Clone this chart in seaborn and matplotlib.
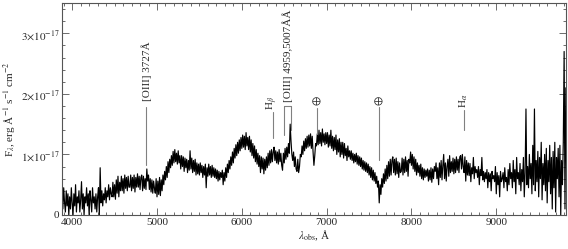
import numpy as np
import pandas as pd
import matplotlib
matplotlib.use("Agg")
import matplotlib.pyplot as plt
import seaborn as sns
from matplotlib.ticker import MultipleLocator, FixedLocator

# ---------------- data ----------------
wave_start = 3880   # first wavelength, Angstrom
wave_step = 10      # sampling, Angstrom
# flux in units of 1e-17 erg/A/s/cm^2 (rows of 100 A)
flux_1e17 = [
    0.55, 0.10, 0.45, 0.20, 0.05, 0.40, 0.15, 0.35, 0.00, 0.30,   # 3880
    0.10, 0.45, 0.20, 0.00, 0.35, 0.15, 0.50, 0.05, 0.30, 0.20,   # 3980
    0.40, 0.05, 0.25, 0.55, 0.10, 0.35, 0.00, 0.30, 0.20, 0.45,   # 4080
    0.15, 0.35, 0.00, 0.40, 0.25, 0.05, 0.45, 0.20, 0.30, 0.10,   # 4180
    0.35, 0.05, 0.30, 0.45, 0.00, 0.78, 0.20, 0.40, 0.15, 0.35,   # 4280
    0.25, 0.45, 0.20, 0.40, 0.30, 0.50, 0.25, 0.45, 0.35, 0.30,   # 4380
    0.54, 0.30, 0.50, 0.26, 0.58, 0.36, 0.64, 0.30, 0.54, 0.40,   # 4480
    0.64, 0.40, 0.60, 0.36, 0.66, 0.44, 0.62, 0.40, 0.64, 0.46,   # 4580
    0.46, 0.66, 0.40, 0.62, 0.44, 0.66, 0.38, 0.62, 0.46, 0.68,   # 4680
    0.46, 0.64, 0.42, 0.62, 0.66, 0.40, 0.64, 0.44, 0.60, 0.42,   # 4780
    0.76, 0.56, 0.66, 0.42, 0.60, 0.38, 0.58, 0.36, 0.56, 0.44,   # 4880
    0.36, 0.60, 0.30, 0.56, 0.34, 0.62, 0.32, 0.58, 0.40, 0.66,   # 4980
    0.50, 0.72, 0.58, 0.80, 0.62, 0.88, 0.70, 0.92, 0.78, 0.98,   # 5080
    0.82, 1.05, 0.86, 1.08, 0.88, 1.02, 0.84, 1.06, 0.86, 0.98,   # 5180
    0.76, 0.98, 0.80, 0.96, 0.72, 0.94, 0.78, 0.92, 0.70, 0.90,   # 5280
    0.74, 1.06, 0.76, 0.94, 0.70, 0.90, 0.72, 0.92, 0.66, 0.86,   # 5380
    0.68, 0.84, 0.66, 0.86, 0.70, 0.82, 0.62, 0.80, 0.66, 0.84,   # 5480
    0.45, 0.78, 0.64, 0.84, 0.66, 0.80, 0.62, 0.82, 0.64, 0.78,   # 5580
    0.62, 0.76, 0.60, 0.74, 0.56, 0.72, 0.58, 0.70, 0.62, 0.74,   # 5680
    0.50, 0.70, 0.56, 0.78, 0.62, 0.84, 0.70, 0.90, 0.76, 0.96,   # 5780
    0.82, 1.04, 0.86, 1.10, 0.94, 1.16, 0.98, 1.20, 1.02, 1.24,   # 5880
    1.06, 1.28, 1.10, 1.32, 1.12, 1.30, 1.08, 1.36, 1.14, 1.28,   # 5980
    1.08, 1.30, 1.04, 1.24, 0.98, 1.18, 0.94, 1.14, 0.88, 1.08,   # 6080
    0.84, 1.02, 0.80, 0.98, 0.70, 0.96, 0.76, 0.94, 0.68, 0.92,   # 6180
    0.74, 0.96, 0.78, 1.02, 0.82, 1.06, 0.86, 1.08, 0.88, 1.04,   # 6280
    1.12, 0.90, 1.06, 0.86, 1.04, 0.84, 1.08, 0.88, 1.02, 0.82,   # 6380
    0.74, 1.02, 0.86, 1.10, 0.92, 1.12, 0.96, 1.18, 1.02, 1.50,   # 6480
    1.22, 1.00, 0.90, 1.04, 0.80, 0.96, 0.76, 0.72, 0.92, 0.70,   # 6580
    0.80, 1.00, 0.96, 1.14, 1.00, 1.22, 1.06, 1.26, 1.10, 1.30,   # 6680
    1.12, 1.32, 1.14, 1.34, 1.10, 1.30, 1.04, 0.82, 0.98, 1.18,   # 6780
    1.14, 1.34, 1.16, 1.40, 1.18, 1.36, 1.14, 1.42, 1.20, 1.34,   # 6880
    1.16, 1.36, 1.18, 1.36, 1.12, 1.32, 1.14, 1.40, 1.10, 1.30,   # 6980
    1.06, 1.28, 1.08, 1.32, 1.00, 1.24, 1.04, 1.26, 0.96, 1.20,   # 7080
    1.00, 1.20, 0.94, 1.18, 0.98, 1.10, 0.90, 1.14, 0.96, 1.06,   # 7180
    0.92, 1.06, 0.90, 1.02, 0.86, 1.00, 0.88, 1.02, 0.84, 0.98,   # 7280
    0.82, 0.96, 0.80, 0.94, 0.76, 0.90, 0.74, 0.88, 0.72, 0.86,   # 7380
    0.70, 0.84, 0.66, 0.80, 0.62, 0.78, 0.58, 0.74, 0.56, 0.70,   # 7480
    0.52, 0.64, 0.46, 0.56, 0.20, 0.50, 0.34, 0.60, 0.46, 0.68,   # 7580
    0.52, 0.76, 0.56, 0.82, 0.60, 0.88, 0.64, 0.92, 0.66, 0.90,   # 7680
    0.96, 0.70, 0.92, 0.66, 0.94, 0.68, 0.88, 0.62, 0.86, 0.70,   # 7780
    0.72, 0.94, 0.66, 0.92, 0.70, 0.96, 0.72, 0.90, 0.64, 0.92,   # 7880
    0.86, 1.04, 0.82, 1.00, 0.76, 0.96, 0.72, 0.92, 0.66, 0.86,   # 7980
    0.70, 0.82, 0.64, 0.84, 0.60, 0.78, 0.58, 0.76, 0.62, 0.74,   # 8080
    0.64, 0.76, 0.56, 0.74, 0.58, 0.78, 0.54, 0.76, 0.60, 0.80,   # 8180
    0.72, 0.86, 0.60, 0.78, 0.50, 0.86, 0.62, 0.90, 0.58, 0.82,   # 8280
    1.00, 0.60, 0.86, 0.56, 0.80, 0.92, 0.64, 0.98, 0.70, 0.88,   # 8380
    0.72, 0.94, 0.68, 0.92, 0.70, 0.96, 0.74, 0.92, 0.70, 0.96,   # 8480
    0.98, 0.76, 1.00, 0.80, 0.70, 0.96, 0.56, 0.90, 0.66, 0.86,   # 8580
    0.65, 0.85, 0.55, 0.78, 0.68, 0.95, 0.60, 0.80, 0.70, 0.75,   # 8680
    0.62, 0.80, 0.50, 0.75, 0.65, 0.95, 0.58, 0.72, 0.55, 0.70,   # 8780
    0.60, 0.75, 0.45, 0.70, 0.55, 0.68, 0.40, 0.72, 0.60, 0.65,   # 8880
    0.55, 0.80, 0.35, 0.70, 0.50, 0.65, 0.30, 0.72, 0.55, 0.60,   # 8980
    0.70, 0.45, 0.78, 0.55, 0.62, 0.40, 0.75, 0.50, 0.85, 0.60,   # 9080
    0.70, 0.45, 0.90, 0.55, 0.75, 0.35, 0.95, 0.60, 0.70, 0.50,   # 9180
    0.85, 0.40, 0.75, 0.55, 0.95, 0.30, 0.70, 1.75, 0.50, 0.80,   # 9280
    0.45, 1.00, 0.60, 0.85, 0.35, 1.15, 0.50, 1.75, 0.40, 0.90,   # 9380
    0.55, 1.05, 0.30, 0.95, 0.60, 1.20, 0.25, 0.85, 0.50, 1.00,   # 9480
    0.40, 1.10, 0.20, 0.90, 0.55, 1.15, 0.35, 0.95, 0.10, 1.05,   # 9580
    0.45, 1.20, 0.05, 0.95, 0.60, 1.10, 0.30, 1.15, 0.00, 0.90,   # 9680
    0.50, 1.20, 2.70, 0.10, 2.10, 0.60,                           # 9780
]

# line identifications: (wavelength of mark, bottom of mark, top of mark) in 1e-17 units
line_labels = [r"[OIII] 3727Å", r"H$_\beta$", r"$\oplus$", r"$\oplus$", r"H$_\alpha$"]
line_waves = [4876, 6367, 6888, 7621, 8615]
line_bottoms = [0.82, 1.27, 1.33, 0.90, 1.40]
line_tops = [1.78, 1.70, 1.76, 1.78, 1.73]
label_bottoms = [1.89, 1.74, 1.80, 1.80, 1.77]

oiii_label = r"[OIII] 4959,5007ÅÅ"
oiii_waves = [6497, 6580]
oiii_bottoms = [1.32, 1.40]
oiii_top = 1.80

# ---------------- plotting ----------------
sns.set_style("ticks")
plt.rcParams["font.family"] = ["Liberation Serif", "DejaVu Serif"]
plt.rcParams["mathtext.fontset"] = "stix"

wave = wave_start + wave_step * np.arange(len(flux_1e17))
df = pd.DataFrame({"wave": wave, "flux": np.array(flux_1e17) * 1e-17})

fig = plt.figure(figsize=(5.68, 2.49), dpi=100)
ax = fig.add_axes([62 / 568, 1 - 215 / 249, (566 - 62) / 568, (215 - 3) / 249])

sns.lineplot(data=df, x="wave", y="flux", ax=ax, color="black", lw=0.85,
             estimator=None, sort=False)

ax.set_xlim(3880, 9822)
ax.set_ylim(0, 3.5e-17)

ax.xaxis.set_major_locator(MultipleLocator(1000))
ax.xaxis.set_minor_locator(MultipleLocator(100))
ax.yaxis.set_major_locator(FixedLocator([0, 1e-17, 2e-17, 3e-17]))
ax.yaxis.set_minor_locator(MultipleLocator(0.2e-17))
ax.set_yticklabels(["0", r"$1{\times}10^{-17}$", r"$2{\times}10^{-17}$", r"$3{\times}10^{-17}$"])
ax.tick_params(which="both", direction="in", top=True, right=True, labelsize=8,
               color="#555555", width=0.6, pad=2)
ax.tick_params(which="major", length=5)
ax.tick_params(which="minor", length=2.5)
for sp in ax.spines.values():
    sp.set_color("#555555")
    sp.set_linewidth(0.8)

ax.set_xlabel(r"$\lambda_{\rm obs}$, Å", fontsize=8, labelpad=1)
ax.set_ylabel(r"F$_\lambda$, erg Å$^{-1}$ s$^{-1}$ cm$^{-2}$", fontsize=8, labelpad=2)

mark_color = "#808080"
for lab, w, b, t, lb in zip(line_labels, line_waves, line_bottoms, line_tops, label_bottoms):
    ax.plot([w, w], [b * 1e-17, t * 1e-17], color=mark_color, lw=0.8)
    ax.text(w, lb * 1e-17, lab, rotation=90, ha="center", va="bottom", fontsize=8)

for w, b in zip(oiii_waves, oiii_bottoms):
    ax.plot([w, w], [b * 1e-17, oiii_top * 1e-17], color=mark_color, lw=0.8)
ax.plot(oiii_waves, [oiii_top * 1e-17] * 2, color=mark_color, lw=0.8)
ax.text(np.mean(oiii_waves), (oiii_top + 0.07) * 1e-17, oiii_label, rotation=90,
        ha="center", va="bottom", fontsize=8)

fig.savefig("out.png", dpi=100)
